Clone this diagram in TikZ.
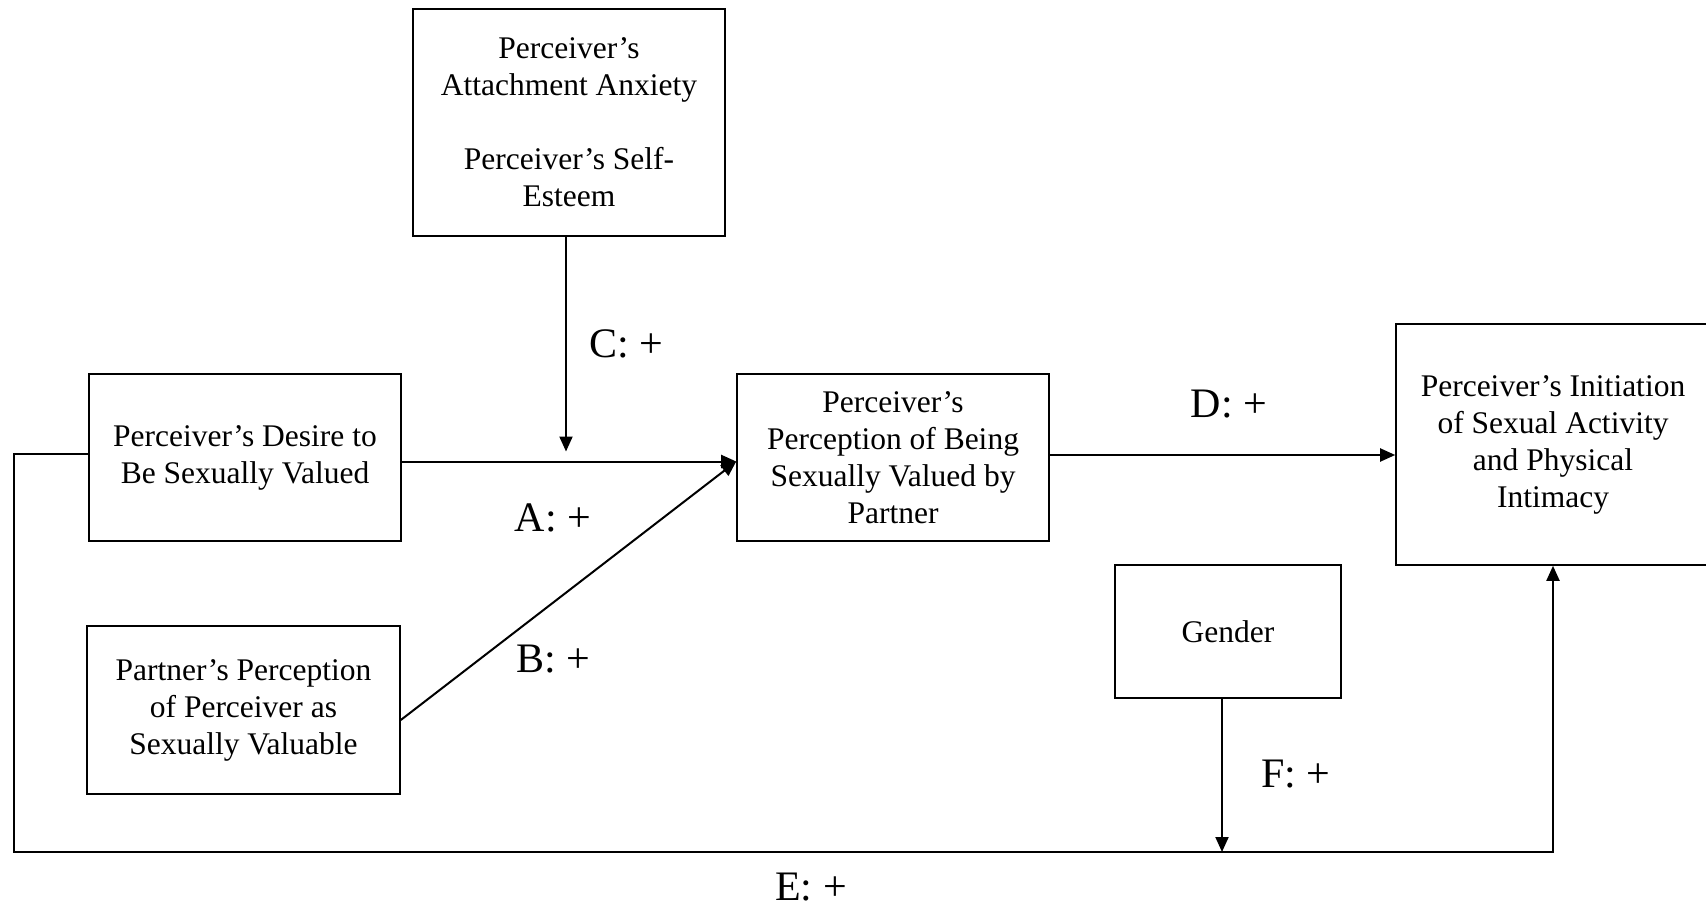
\documentclass[tikz,border=0pt]{standalone}
\usepackage{fontspec}
\setmainfont{Liberation Serif}
\usetikzlibrary{arrows.meta,calc}
\begin{document}
\begin{tikzpicture}[x=1pt,y=-1pt,
  box/.style={draw,line width=1.6pt,inner sep=0pt,align=center,
    font=\fontsize{31.5}{37}\selectfont},
  link/.style={line width=2pt},
  arr/.style={link,-{Triangle[length=15pt,width=13pt]}},
  lab/.style={font=\fontsize{42}{50}\selectfont,inner sep=0pt}]
\useasboundingbox (0,0) rectangle (1706,907);

% variables
\node[box,minimum width=312pt,minimum height=227pt] (attach) at (569,122.5)
  {Perceiver’s\\Attachment Anxiety\\[37pt]Perceiver’s Self-\\Esteem};
\node[box,minimum width=312pt,minimum height=167pt] (desire) at (245,457.5)
  {Perceiver’s Desire to\\Be Sexually Valued};
\node[box,minimum width=312pt,minimum height=167pt] (perc) at (893,457.5)
  {Perceiver’s\\Perception of Being\\Sexually Valued by\\Partner};
\node[box,minimum width=314pt,minimum height=241pt] (init) at (1553,444.5)
  {Perceiver’s Initiation\\of Sexual Activity\\and Physical\\Intimacy};
\node[box,minimum width=226pt,minimum height=133pt] (gender) at (1228,631.5)
  {Gender};
\node[box,minimum width=313pt,minimum height=168pt] (partner) at (243.5,710)
  {Partner’s Perception\\of Perceiver as\\Sexually Valuable};

% helper points
\coordinate (pin) at ([yshift=-4pt]perc.west);
\coordinate (cout) at ([xshift=-3pt]attach.south);
\coordinate (ctip) at ([yshift=10pt]cout |- pin);
\coordinate (bout) at ([yshift=-10pt]partner.east);
\coordinate (eout) at ([yshift=4pt]desire.west);
\coordinate (ecorner1) at (14,0 |- eout);
\coordinate (ecorner2) at (14,852);
\coordinate (ecorner3) at (init.south |- ecorner2);
\coordinate (fout) at ([xshift=-6pt]gender.south);
\coordinate (ftip) at (fout |- ecorner2);

% paths
\draw[arr] (desire.east |- pin) -- (pin);
\draw[arr] (cout) -- (ctip);
\draw[arr] (bout) -- (pin);
\draw[arr] (perc.east |- 0,455) -- (init.west |- 0,455);
\draw[arr] (eout) -- (ecorner1) -- (ecorner2) -- (ecorner3) -- (init.south);
\draw[arr] (fout) -- (ftip);

% path labels
\node[lab] (la) at (553,518) {A: +};
\node[lab] (lb) at (553,659) {B: +};
\node[lab] (lc) at (626,344) {C: +};
\node[lab] (ld) at (1229,404) {D: +};
\node[lab] (le) at (811,887) {E: +};
\node[lab] (lf) at (1296,774) {F: +};
\end{tikzpicture}
\end{document}
